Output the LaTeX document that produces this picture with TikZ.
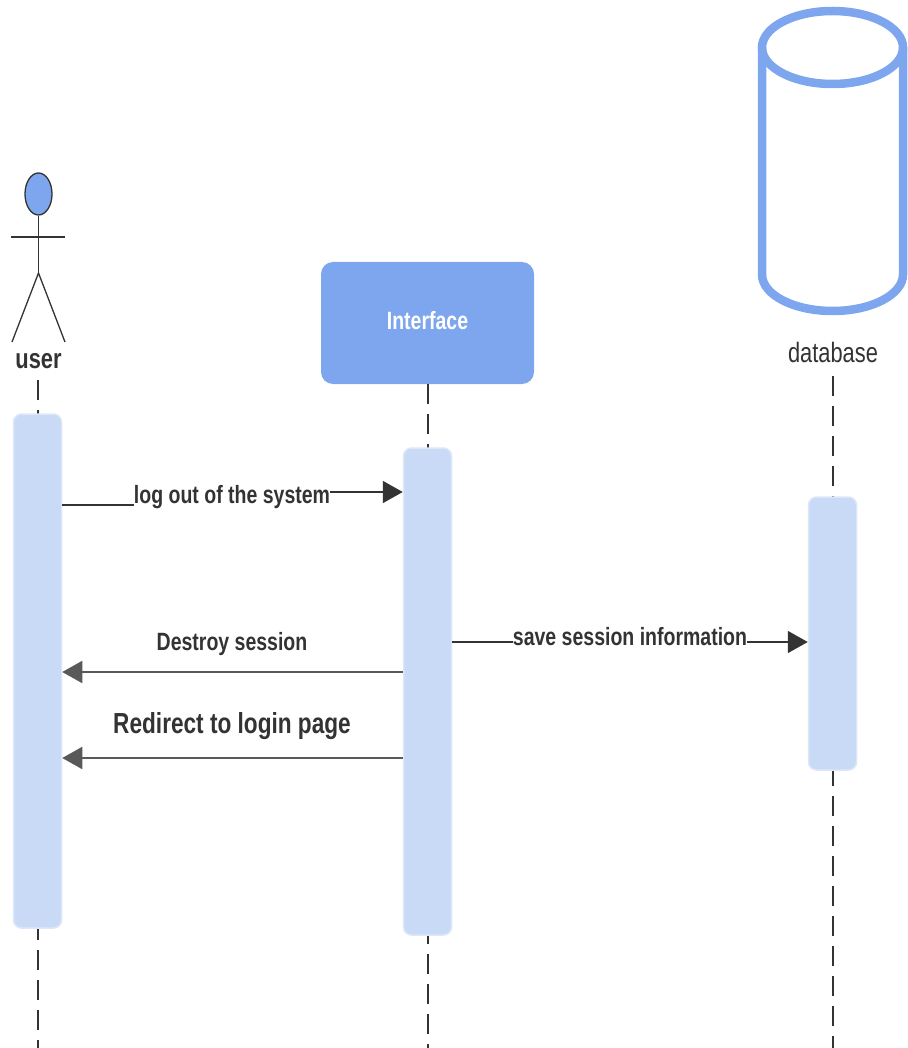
\documentclass[tikz,border=0pt]{standalone}
\usepackage{fontspec}
\setmainfont{Liberation Sans}
\newfontfamily\cond[FakeStretch=0.78]{Liberation Sans}
\usetikzlibrary{arrows.meta,shapes.geometric}
\definecolor{blueA}{HTML}{7EA6EE}
\definecolor{barfill}{HTML}{C8DAF6}
\definecolor{barline}{HTML}{DDE7F8}
\definecolor{ink}{HTML}{333333}
\definecolor{ink2}{HTML}{595959}
\begin{document}
\begin{tikzpicture}[x=1pt,y=-1pt,
  actbar/.style={draw=barline, line width=1.5pt, fill=barfill, rounded corners=8pt, minimum width=48pt, inner sep=0pt},
  lifeline/.style={draw=ink, line width=1.2pt, dash pattern=on 20pt off 10pt},
  plainmsg/.style={draw=ink, line width=1.8pt},
  msg/.style={draw=ink, line width=1.8pt, -{Triangle[length=20pt,width=22pt]}},
  retmsg/.style={draw=ink2, line width=1.8pt, -{Triangle[length=20pt,width=22pt]}},
  lbl/.style={font=\cond\bfseries\fontsize{25}{30}\selectfont, text=ink, inner sep=0pt},
  stick/.style={draw=ink, line width=1.3pt}
]
\useasboundingbox (0,0) rectangle (907,1048);

% interface header
\node[fill=blueA, rounded corners=12pt, minimum width=213pt, minimum height=122pt, inner sep=0pt,
      text=white, font=\cond\bfseries\fontsize{25}{30}\selectfont] (ifc) at (427.5,323) {\raisebox{5pt}{Interface}};

% actor
\node[draw=ink, line width=1.3pt, ellipse, fill=blueA, minimum width=27pt, minimum height=42pt, inner sep=0pt] (head) at (38.5,194) {};
\coordinate (hip) at (38.5,273);
\coordinate (armL) at (11,237);
\coordinate (armR) at (65,237);
\coordinate (legL) at (12,342);
\coordinate (legR) at (65,342);
\draw[stick] (head.south) -- (hip);
\draw[stick] (armL) -- (armR);
\draw[stick] (legL) -- (hip) -- (legR);
\node[lbl, anchor=base, font=\cond\bfseries\fontsize{28}{32}\selectfont] (user) at (38.5,368) {user};

% database cylinder
\draw[blueA, line width=8.5pt] (832.5,47.5) ellipse [x radius=70.5pt, y radius=36.5pt];
\draw[blueA, line width=8.5pt] (762,47.5) -- (762,274.5) arc[start angle=180, end angle=360, x radius=70.5pt, y radius=36.5pt] -- (903,47.5);
\node[anchor=base, inner sep=0pt, text=ink, font=\cond\fontsize{28}{32}\selectfont] (dbl) at (833,362) {database};

% lifelines
\coordinate (uend) at (38,1048);
\coordinate (iend) at (428,1048);
\coordinate (dend) at (833,1048);
\draw[lifeline] (38,380) -- (uend);
\draw[lifeline] (428,384) -- (iend);
\draw[lifeline] (833,376) -- (dend);

% activation bars
\node[actbar, minimum height=514pt] (ub) at (37.5,671) {};
\node[actbar, minimum height=487pt] (ib) at (427.5,691.5) {};
\node[actbar, minimum height=273pt] (db) at (832.5,633.5) {};

% message 1
\node[lbl, anchor=base] (l1) at (232,503) {log out of the system};
\draw[plainmsg] (ub.east |- 0,505) -- (l1.west |- 0,505);
\draw[msg] (l1.east |- 0,492) -- (ib.west |- 0,492);

% message 2
\node[lbl, anchor=base] (l2) at (630,645) {save session information};
\draw[plainmsg] (ib.east |- 0,642) -- (l2.west |- 0,642);
\draw[msg] (l2.east |- 0,642) -- (db.west |- 0,642);

% message 3
\node[lbl, anchor=base] (l3) at (232,650) {Destroy session};
\draw[retmsg] (ib.west |- 0,672) -- (ub.east |- 0,672);

% message 4
\node[lbl, anchor=base, font=\cond\bfseries\fontsize{29}{34}\selectfont] (l4) at (232,733) {Redirect to login page};
\draw[retmsg] (ib.west |- 0,758) -- (ub.east |- 0,758);
\end{tikzpicture}
\end{document}
